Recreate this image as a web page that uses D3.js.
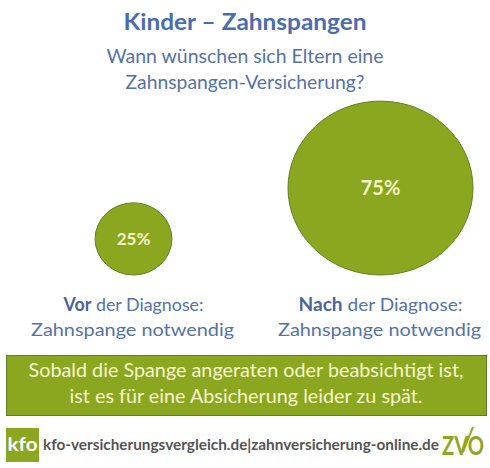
<!DOCTYPE html>
<meta charset="utf-8">
<style>
  body { margin: 0; background: #fff; }
  svg { display: block; font-family: Lato, "Open Sans", sans-serif; }
  .title { fill: #4a6db0; font-weight: bold; font-size: 23px; }
  .sub { fill: #5472a8; font-size: 19px; }
  .lbl { fill: #5472a8; font-size: 18px; }
  .lbl .b { font-weight: bold; fill: #4a6596; }
  .bubble { fill: #8ba71f; stroke: #637f26; stroke-width: 1; }
  .pct { fill: #f3f7c6; font-weight: bold; text-anchor: middle; }
  .note { fill: #f5f7cd; font-size: 19px; text-anchor: middle; }
  .foot { fill: #555; font-weight: bold; font-size: 15px; }
</style>
<body></body>
<script src="https://cdnjs.cloudflare.com/ajax/libs/d3/7.8.5/d3.min.js"></script>
<script>
// data
var categories = ["Vor", "Nach"];
var values = [25, 75];
var valueLabels = ["25%", "75%"];
var labelLine1 = [" der Diagnose:", " der Diagnose:"];
var labelLine2 = ["Zahnspange notwendig", "Zahnspange notwendig"];
var title = "Kinder \u2013 Zahnspangen";
var subtitle = ["Wann wünschen sich Eltern eine", "Zahnspangen-Versicherung?"];
var note = ["Sobald die Spange angeraten oder beabsichtigt ist,", "ist es für eine Absicherung leider zu spät."];
var footer = "kfo-versicherungsvergleich.de|zahnversicherung-online.de";

var w = 490, h = 468;
var svg = d3.select("body").append("svg").attr("width", w).attr("height", h);

// title + question
svg.append("text").attr("class", "title")
  .attr("x", 245).attr("y", 30).attr("text-anchor", "middle")
  .attr("textLength", 243).attr("lengthAdjust", "spacingAndGlyphs")
  .text(title);

var subW = [277, 239];
svg.selectAll("text.sub").data(subtitle).enter().append("text")
  .attr("class", "sub")
  .attr("x", 245).attr("y", function(d, i) { return 63 + i * 26; })
  .attr("text-anchor", "middle")
  .attr("textLength", function(d, i) { return subW[i]; })
  .attr("lengthAdjust", "spacingAndGlyphs")
  .text(function(d) { return d; });

// scales
var x = d3.scalePoint().domain(categories).range([133.5, 380.5]);
var r = d3.scalePow().exponent(0.8).domain([0, 75]).range([0, 92.5]);
var base = 275; // bubbles sit on a common bottom line

var g = svg.selectAll("g.bubble-g")
  .data(categories.map(function(c, i) { return {cat: c, v: values[i], lab: valueLabels[i], i: i}; }))
  .enter().append("g").attr("class", "bubble-g");

g.append("ellipse").attr("class", "bubble")
  .attr("cx", function(d) { return x(d.cat); })
  .attr("cy", function(d) { return base - r(d.v) * 0.94; })
  .attr("rx", function(d) { return r(d.v); })
  .attr("ry", function(d) { return r(d.v) * 0.94; });

g.append("text").attr("class", "pct")
  .attr("x", function(d) { return x(d.cat); })
  .attr("y", function(d) { return base - r(d.v) * 0.94; })
  .attr("dy", "0.35em")
  .style("font-size", function(d) { return d.v > 50 ? "20px" : "17px"; })
  .text(function(d) { return d.lab; });

var l1 = g.append("text").attr("class", "lbl")
  .attr("x", function(d) { return x(d.cat); })
  .attr("y", 311).attr("text-anchor", "middle")
  .attr("textLength", function(d) { return d.i ? 164 : 140; })
  .attr("lengthAdjust", "spacingAndGlyphs");
l1.append("tspan").attr("class", "b").text(function(d) { return d.cat; });
l1.append("tspan").text(function(d) { return labelLine1[d.i]; });

g.append("text").attr("class", "lbl")
  .attr("x", function(d) { return x(d.cat) - 1; })
  .attr("y", 336).attr("text-anchor", "middle")
  .attr("textLength", 203).attr("lengthAdjust", "spacingAndGlyphs")
  .text(function(d) { return labelLine2[d.i]; });

// note box
svg.append("rect").attr("x", 6.5).attr("y", 355.5).attr("width", 480).attr("height", 60)
  .attr("fill", "#8ba71f").attr("stroke", "#5f7c2a");
var noteW = [435, 353];
svg.selectAll("text.note").data(note).enter().append("text")
  .attr("class", "note")
  .attr("x", 246).attr("y", function(d, i) { return 377 + i * 26; })
  .attr("textLength", function(d, i) { return noteW[i]; })
  .attr("lengthAdjust", "spacingAndGlyphs")
  .text(function(d) { return d; });

// footer
svg.append("rect").attr("x", 6).attr("y", 428).attr("width", 33).attr("height", 34).attr("fill", "#8ba71f");
svg.append("text").attr("x", 22.5).attr("y", 451).attr("text-anchor", "middle")
  .attr("fill", "#fff").attr("font-weight", "bold").attr("font-size", 19)
  .attr("textLength", 30).attr("lengthAdjust", "spacingAndGlyphs").text("kfo");
svg.append("text").attr("class", "foot")
  .attr("x", 43).attr("y", 450)
  .attr("textLength", 396).attr("lengthAdjust", "spacingAndGlyphs")
  .text(footer);

// ZVO mark
svg.append("text").attr("x", 442).attr("y", 455).attr("font-size", 26)
  .attr("fill", "#8ba71f").attr("font-weight", "bold")
  .attr("textLength", 42).attr("lengthAdjust", "spacingAndGlyphs").text("ZVO");
svg.append("line").attr("x1", 463).attr("y1", 452).attr("x2", 473).attr("y2", 427)
  .attr("stroke", "#8ba71f").attr("stroke-width", 2);
</script>
